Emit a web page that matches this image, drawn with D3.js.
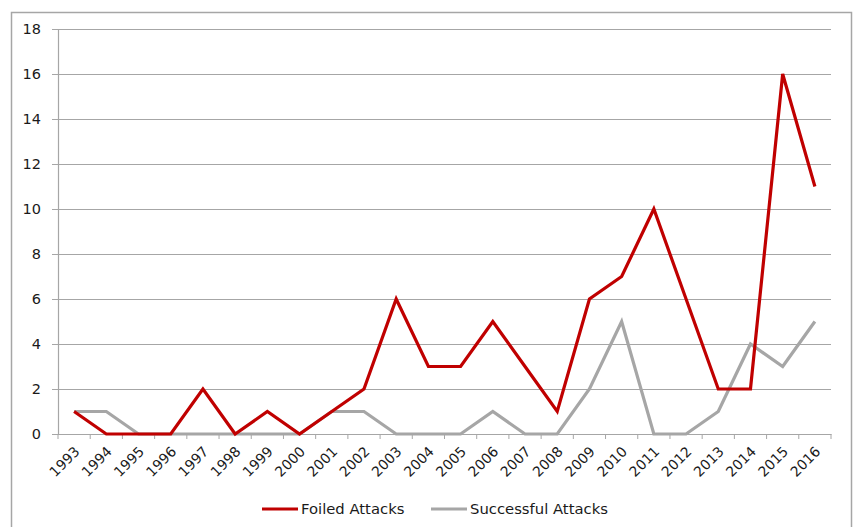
<!DOCTYPE html>
<html>
<head>
<meta charset="utf-8">
<script src="https://cdn.jsdelivr.net/npm/d3@7"></script>
<style>
  body { margin: 0; background: #fff; }
  text { font-family: "DejaVu Sans", Verdana, sans-serif; fill: #1a1a1a; }
</style>
</head>
<body>
<div id="chart"></div>
<script>
const years = ["1993","1994","1995","1996","1997","1998","1999","2000","2001","2002","2003","2004",
  "2005","2006","2007","2008","2009","2010","2011","2012","2013","2014","2015","2016"];
const foiled = [1,0,0,0,2,0,1,0,1,2,6,3,3,5,3,1,6,7,10,6,2,2,16,11];
const successful = [1,1,0,0,0,0,0,0,1,1,0,0,0,1,0,0,2,5,0,0,1,4,3,5];
const yTicks = [0,2,4,6,8,10,12,14,16,18];
const seriesNames = ["Foiled Attacks", "Successful Attacks"];
const seriesColors = ["#c00000", "#a6a6a6"];

const W = 854, H = 527;
const margin = { top: 29, right: 23, bottom: 93, left: 58 };
const width = W - margin.left - margin.right;
const height = H - margin.top - margin.bottom;

const svg = d3.select("#chart").append("svg")
  .attr("width", W).attr("height", H);

// outer frame
svg.append("rect")
  .attr("x", 11.5).attr("y", 12.5)
  .attr("width", 840).attr("height", 520)
  .attr("fill", "none").attr("stroke", "#a6a6a6").attr("stroke-width", 1.5);

const g = svg.append("g").attr("transform", `translate(${margin.left},${margin.top})`);

const x = d3.scaleBand().domain(years).range([0, width]);
const y = d3.scaleLinear().domain([0, 18]).range([height, 0]);

// gridlines
g.append("g").selectAll("line")
  .data(yTicks.filter(d => d > 0))
  .enter().append("line")
  .attr("x1", 0).attr("x2", width)
  .attr("y1", d => Math.round(y(d)) + 0.5).attr("y2", d => Math.round(y(d)) + 0.5)
  .attr("stroke", "#a6a6a6").attr("stroke-width", 1.2);

// y axis
const yAxis = g.append("g")
  .call(d3.axisLeft(y).tickValues(yTicks).tickSize(6).tickPadding(11));
yAxis.select(".domain").attr("stroke", "#a6a6a6").attr("stroke-width", 1.2);
yAxis.selectAll(".tick line").attr("stroke", "#a6a6a6");
yAxis.selectAll("text").attr("font-size", 14.5).style("font-family", "DejaVu Sans, sans-serif");

// x axis with ticks at category boundaries
const xAxis = g.append("g").attr("transform", `translate(0,${height})`)
  .call(d3.axisBottom(x).tickSize(0).tickPadding(0));
xAxis.select(".domain").attr("stroke", "#a6a6a6").attr("stroke-width", 1.2);
xAxis.selectAll("text")
  .attr("font-size", 14)
  .style("font-family", "DejaVu Sans, sans-serif")
  .attr("text-anchor", "end")
  .attr("dy", "0.35em")
  .attr("transform", "translate(3,15) rotate(-45)");
xAxis.append("g").selectAll("line")
  .data(d3.range(years.length + 1))
  .enter().append("line")
  .attr("x1", i => i * x.step()).attr("x2", i => i * x.step())
  .attr("y1", 0).attr("y2", 5)
  .attr("stroke", "#a6a6a6");

// lines
const line = d3.line()
  .x((d, i) => x(years[i]) + x.bandwidth() / 2)
  .y(d => y(d));

[successful, foiled].forEach((data, k) => {
  g.append("path")
    .datum(data)
    .attr("fill", "none")
    .attr("stroke", k === 0 ? seriesColors[1] : seriesColors[0])
    .attr("stroke-width", 3.2)
    .attr("stroke-linejoin", "miter")
    .attr("d", line);
});

// legend
const legend = svg.append("g").attr("transform", "translate(262,509)");
const legendX = [0, 169];
seriesNames.forEach((name, i) => {
  const item = legend.append("g").attr("transform", `translate(${legendX[i]},0)`);
  item.append("line").attr("x1", 0).attr("x2", 36).attr("y1", 0).attr("y2", 0)
    .attr("stroke", seriesColors[i]).attr("stroke-width", 3.2);
  item.append("text").attr("x", 39).attr("y", 0).attr("dy", "0.35em")
    .attr("font-size", 14.8).text(name);
});
</script>
</body>
</html>
